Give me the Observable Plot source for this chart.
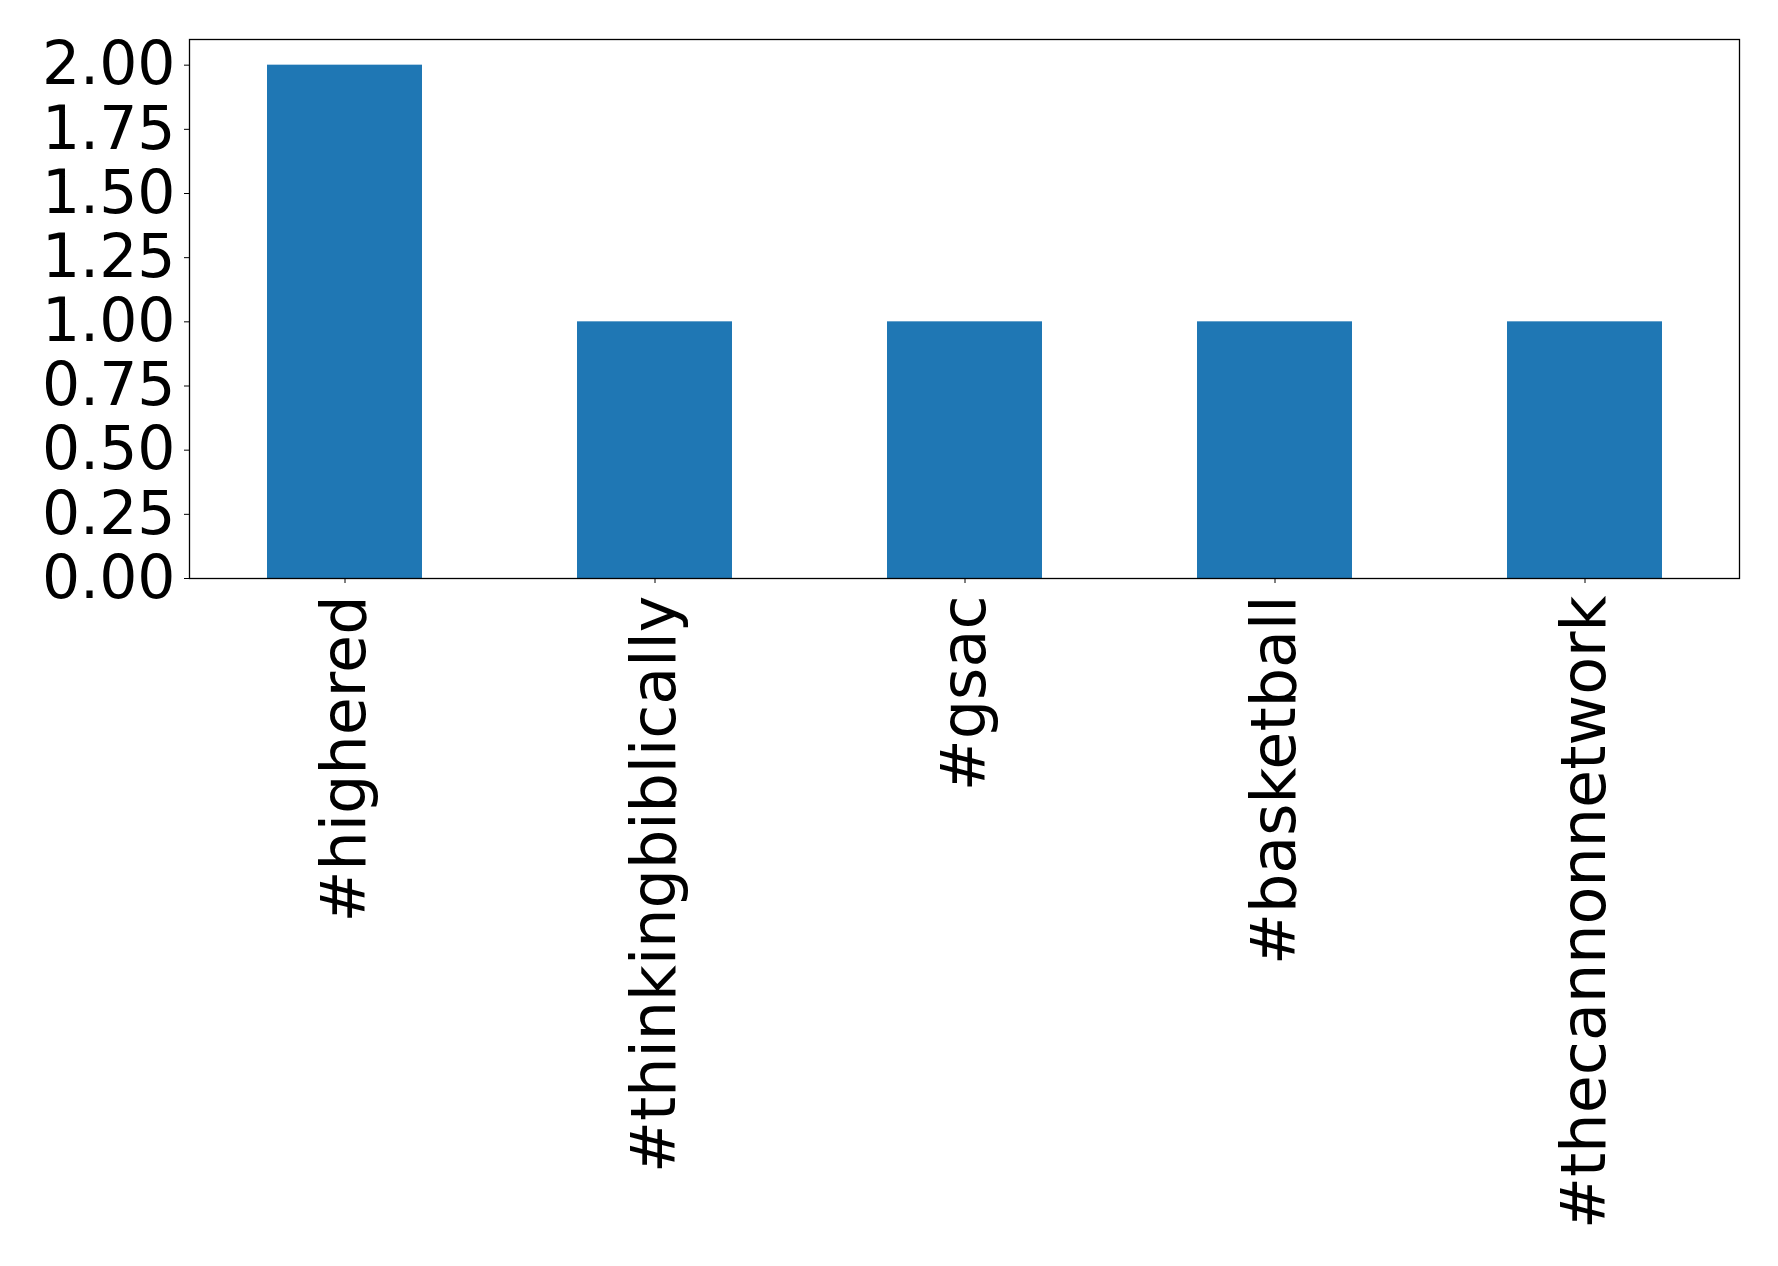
<!DOCTYPE html>
<html>
<head>
<meta charset="utf-8">
<script src="https://cdn.jsdelivr.net/npm/d3@7"></script>
<script src="https://cdn.jsdelivr.net/npm/@observablehq/plot@0.6"></script>
<style>
  html, body { margin: 0; padding: 0; background: #fff; }
  #chart svg { display: block; }
</style>
</head>
<body>
<div id="chart"></div>
<script>
const categories = ["#highered", "#thinkingbiblically", "#gsac", "#basketball", "#thecannonnetwork"];
const counts = [2, 1, 1, 1, 1];
const yTicks = [0, 0.25, 0.5, 0.75, 1.0, 1.25, 1.5, 1.75, 2.0];

const data = categories.map((c, i) => ({tag: c, count: counts[i]}));

const chart = Plot.plot({
  width: 1778,
  height: 1266,
  marginLeft: 189,
  marginRight: 39,
  marginTop: 39,
  marginBottom: 688,
  style: {fontFamily: "'DejaVu Sans', sans-serif", fontSize: "62px", color: "#000", background: "#fff"},
  x: {domain: categories, paddingInner: 0.5, paddingOuter: 0.25, align: 0.5, label: null},
  y: {domain: [0, 2.1], label: null},
  marks: [
    Plot.barY(data, {x: "tag", y: "count", fill: "#1f77b4"}),
    Plot.frame({stroke: "#000", strokeWidth: 1.3}),
    Plot.axisY({ticks: yTicks, tickFormat: d3.format(".2f"), tickSize: 5, tickPadding: 9, label: null, fontSize: 60}),
    Plot.axisX({tickSize: 5, tickPadding: 12, tickRotate: -90, label: null, fontSize: 62})
  ]
});
document.getElementById("chart").appendChild(chart);
</script>
</body>
</html>
